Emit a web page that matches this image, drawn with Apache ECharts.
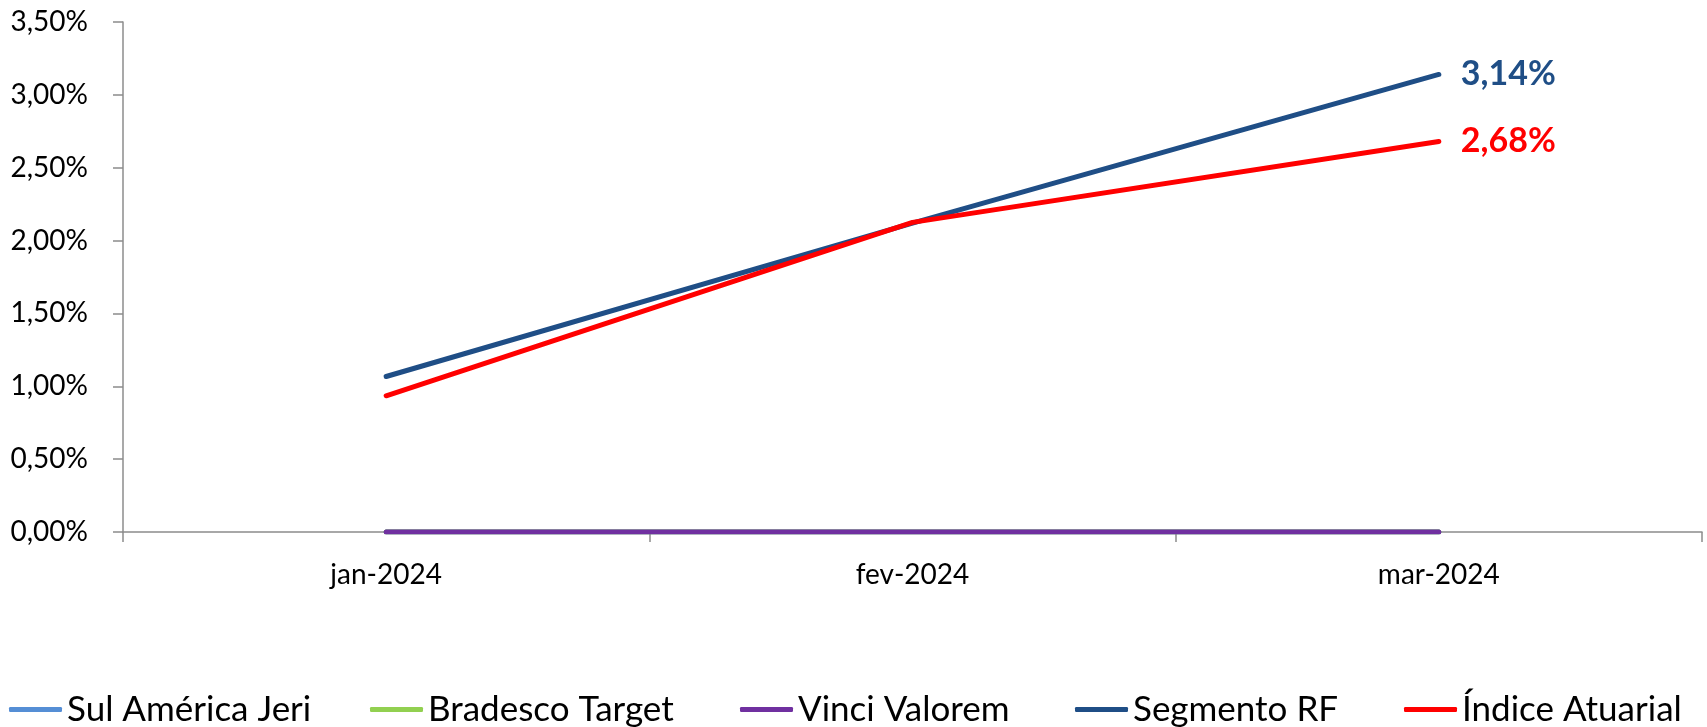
<!DOCTYPE html>
<html>
<head>
<meta charset="utf-8">
<script src="https://cdn.jsdelivr.net/npm/echarts@6/dist/echarts.min.js"></script>
<style>
html,body{margin:0;padding:0;background:#fff;}
#c{width:1707px;height:727px;}
</style>
</head>
<body>
<div id="c"></div>
<script>
const categories = ['jan-2024', 'fev-2024', 'mar-2024'];
const sulAmericaJeri = [0, 0, 0];
const bradescoTarget = [0, 0, 0];
const vinciValorem = [0, 0, 0];
const segmentoRF = [1.067, 2.12, 3.14];
const indiceAtuarial = [0.935, 2.125, 2.68];
const yTicks = { min: 0, max: 3.5, interval: 0.5 };

const FONT = 'Lato, "Open Sans", sans-serif';
const seriesDefs = [
  { name: 'Sul América Jeri', data: sulAmericaJeri, color: '#558ED5' },
  { name: 'Bradesco Target', data: bradescoTarget, color: '#92D050' },
  { name: 'Vinci Valorem', data: vinciValorem, color: '#7030A0' },
  { name: 'Segmento RF', data: segmentoRF, color: '#1F4E86', label: true },
  { name: 'Índice Atuarial', data: indiceAtuarial, color: '#FF0000', label: true }
];
const legendLefts = [9, 370, 740, 1075, 1404];

const fmt = v => v.toFixed(2).replace('.', ',') + '%';

const chart = echarts.init(document.getElementById('c'), null, { renderer: 'canvas' });
chart.setOption({
  animation: false,
  backgroundColor: '#fff',
  grid: { left: 123, right: 5, top: 22, bottom: 195, containLabel: false },
  legend: seriesDefs.map((s, i) => ({
    data: [s.name],
    left: legendLefts[i],
    top: 692,
    padding: 0,
    icon: 'roundRect',
    itemWidth: 53,
    itemHeight: 5,
    itemGap: 0,
    textStyle: { fontFamily: FONT, fontSize: 35, color: '#000' }
  })),
  xAxis: {
    type: 'category',
    data: categories,
    boundaryGap: true,
    axisLine: { lineStyle: { color: '#8C8C8C', width: 1.5 } },
    axisTick: { show: true, length: 10, lineStyle: { color: '#8C8C8C', width: 1.5 } },
    axisLabel: { fontFamily: FONT, fontSize: 28, color: '#000', margin: 29 },
    splitLine: { show: false }
  },
  yAxis: {
    type: 'value',
    min: yTicks.min, max: yTicks.max, interval: yTicks.interval,
    axisLine: { show: true, lineStyle: { color: '#8C8C8C', width: 1.5 } },
    axisTick: { show: true, length: 10, lineStyle: { color: '#8C8C8C', width: 1.5 } },
    axisLabel: { fontFamily: FONT, fontSize: 28, color: '#000', margin: 35, formatter: fmt },
    splitLine: { show: false }
  },
  series: seriesDefs.map(s => ({
    name: s.name,
    type: 'line',
    data: s.data,
    symbol: 'none',
    showSymbol: false,
    color: s.color,
    lineStyle: { color: s.color, width: 5, cap: 'round' },
    itemStyle: { color: s.color },
    endLabel: s.label ? {
      show: true,
      distance: 22,
      fontFamily: FONT,
      fontSize: 34,
      fontWeight: 'bold',
      color: s.color,
      formatter: p => fmt(p.value)
    } : { show: false }
  }))
});
</script>
</body>
</html>
